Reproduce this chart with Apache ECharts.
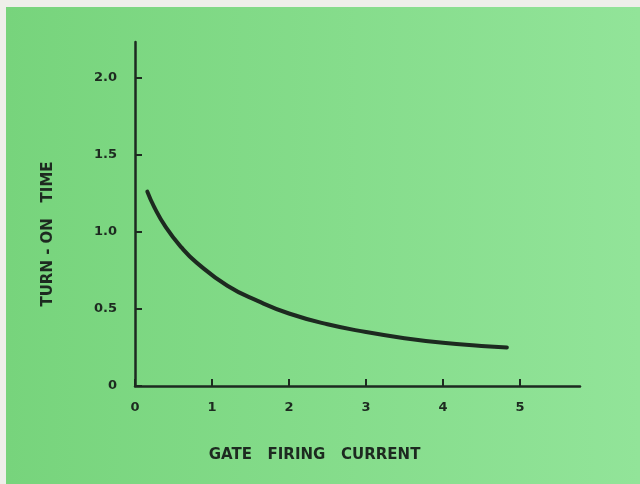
<!DOCTYPE html>
<html>
<head>
<meta charset="utf-8">
<title>Turn-on time</title>
<script src="https://cdn.jsdelivr.net/npm/echarts@6/dist/echarts.min.js"></script>
<style>
    html, body { margin: 0; padding: 0; background: #eeefea; }
    .chart { width: 640px; height: 484px; }
</style>
</head>
<body>
<div class="chart"></div>
<script>
// 数据：门极触发电流 与 开通时间
var gateCurrent = [0.16, 0.25, 0.4, 0.6, 0.8, 1.2, 1.6, 2.0, 2.5, 3.0, 3.5, 4.0, 4.5, 4.83];
var turnOnTime = [1.26, 1.16, 1.03, 0.90, 0.80, 0.65, 0.55, 0.47, 0.40, 0.35, 0.31, 0.28, 0.26, 0.25];
var xTicks = [0, 1, 2, 3, 4, 5];
var yTicks = [0, 0.5, 1.0, 1.5, 2.0];

(function () {
    var ink = '#1d2a20';
    var labelFont = 'DejaVu Sans';
    // 拼成 [x, y] 点
    var points = gateCurrent.map(function (x, i) {
        return [x, turnOnTime[i]];
    });

    var option = {
        backgroundColor: '#eeefea',
        animation: false,
        // 绿色底板
        graphic: [{
            type: 'rect',
            left: 6,
            top: 7,
            shape: { width: 634, height: 477 },
            style: {
                fill: new echarts.graphic.LinearGradient(0, 0, 1, 0, [
                    { offset: 0, color: '#77d47c' },
                    { offset: 1, color: '#92e499' }
                ])
            },
            z: -10
        }],
        grid: {
            left: 135,
            right: 60,
            top: 42,
            bottom: 98
        },
        xAxis: {
            type: 'value',
            min: 0,
            max: 5.78,
            interval: 1,
            name: 'GATE   FIRING   CURRENT',
            nameLocation: 'middle',
            nameGap: 62,
            // 标题不在轴正中，往左挪一点
            nameTextStyle: {
                color: ink, fontFamily: labelFont, fontWeight: 'bold', fontSize: 15,
                padding: [0, 86, 0, 0]
            },
            axisLine: { lineStyle: { color: ink, width: 2.5 } },
            axisTick: { inside: true, length: 7, lineStyle: { color: ink, width: 2 } },
            axisLabel: {
                color: ink, fontFamily: labelFont, fontWeight: 'bold', fontSize: 13, margin: 15,
                showMaxLabel: false,
                formatter: function (v) { return xTicks.indexOf(v) >= 0 ? String(v) : ''; }
            },
            splitLine: { show: false }
        },
        yAxis: {
            type: 'value',
            min: 0,
            max: 2.23,
            interval: 0.5,
            name: 'TURN - ON   TIME',
            nameLocation: 'middle',
            nameGap: 79,
            // 标题往下挪一点
            nameTextStyle: {
                color: ink, fontFamily: labelFont, fontWeight: 'bold', fontSize: 15,
                padding: [0, 40, 0, 0]
            },
            axisLine: { show: true, lineStyle: { color: ink, width: 2.5 } },
            axisTick: { show: true, inside: true, length: 7, lineStyle: { color: ink, width: 2 } },
            axisLabel: {
                color: ink, fontFamily: labelFont, fontWeight: 'bold', fontSize: 13, margin: 18,
                showMaxLabel: false,
                formatter: function (v) {
                    if (yTicks.indexOf(v) < 0) return '';
                    return v === 0 ? '0' : v.toFixed(1);
                }
            },
            splitLine: { show: false }
        },
        series: [{
            type: 'line',
            data: points,
            smooth: 0.5,
            showSymbol: false,
            lineStyle: { color: ink, width: 4, cap: 'round' }
        }]
    };

    var myechart = echarts.init(document.querySelector('.chart'));
    myechart.setOption(option);
})();
</script>
</body>
</html>
